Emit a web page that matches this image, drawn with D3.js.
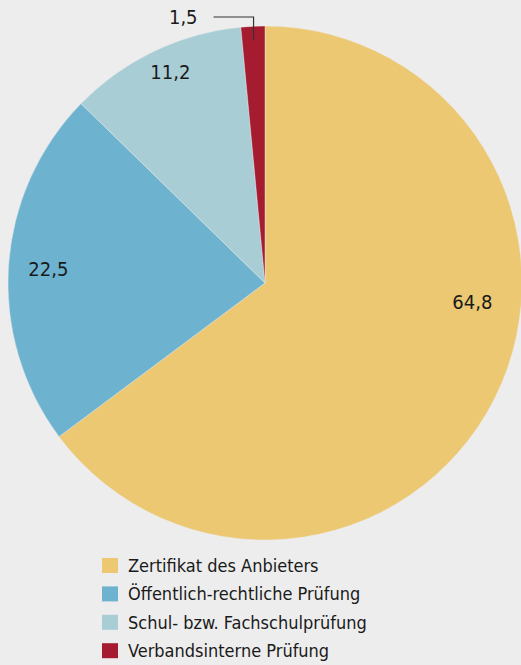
<!DOCTYPE html>
<html>
<head>
<meta charset="utf-8">
<script src="https://cdn.jsdelivr.net/npm/d3@7"></script>
<style>
  html, body { margin: 0; padding: 0; background: #ededed; }
  svg { display: block; }
  text { font-family: "Liberation Sans Narrow", "DejaVu Sans Condensed", "Roboto Condensed", sans-serif; fill: #1a1a1a; }
</style>
</head>
<body>
<div id="chart"></div>
<script>
// Chart Data
const categories = ["Zertifikat des Anbieters", "Öffentlich-rechtliche Prüfung", "Schul- bzw. Fachschulprüfung", "Verbandsinterne Prüfung"];
const values = [64.8, 22.5, 11.2, 1.5];
const valueLabels = ["64,8", "22,5", "11,2", "1,5"];
const colors = ["#ecc873", "#6db3d0", "#a9cdd5", "#a51c30"];

// Dimensions For SVG Element
let w = 521, h = 665;
let cx = 265, cy = 283, r = 257;

let svg = d3.select("#chart").append("svg").attr("width", w).attr("height", h);
let g = svg.append("g").attr("transform", "translate(" + cx + "," + cy + ")");

// Pie Layout, Clockwise From 12 O'Clock, Keeping Data Order
let pie = d3.pie().sort(null).value((d) => { return d; });
let arcs = pie(values);
let arc = d3.arc().innerRadius(0).outerRadius(r);

g.selectAll("path.slice").data(arcs).enter().append("path")
  .attr("class", "slice")
  .attr("d", arc)
  .attr("fill", (d, i) => { return colors[i]; })
  .attr("stroke", "#ededed").attr("stroke-width", 0.4);

// Value Labels (radius fraction, angle shift in degrees)
let labelPlace = [[0.81, -21.5], [0.845, 0], [0.9, 1.4], [null, 0]];
arcs.forEach((d, i) => {
  let mid = (d.startAngle + d.endAngle) / 2 + labelPlace[i][1] * Math.PI / 180;
  if (labelPlace[i][0] !== null) {
    let rr = labelPlace[i][0] * r;
    g.append("text").attr("x", rr * Math.sin(mid)).attr("y", -rr * Math.cos(mid))
      .attr("text-anchor", "middle").attr("dy", "0.36em")
      .style("font-size", "20px").text(valueLabels[i]);
  } else {
    // Small Slice: Leader Line Going Up And Left
    let r0 = 243, yTop = -266;
    let x0 = r0 * Math.sin(mid), y0 = -r0 * Math.cos(mid);
    g.append("path").attr("d", "M" + x0 + "," + y0 + "V" + yTop + "h-40")
      .attr("fill", "none").attr("stroke", "#333").attr("stroke-width", 1.2);
    g.append("text").attr("x", x0 - 56).attr("y", yTop).attr("dy", "0.36em")
      .attr("text-anchor", "end").style("font-size", "20px").text(valueLabels[i]);
  }
});

// Legend
let legend = svg.append("g").attr("transform", "translate(102, 558)");
let item = legend.selectAll("g").data(categories).enter().append("g")
  .attr("transform", (d, i) => { return "translate(0," + (i * 28.4) + ")"; });
item.append("rect").attr("width", 16).attr("height", 15).attr("fill", (d, i) => { return colors[i]; });
item.append("text").attr("x", 26).attr("y", 7.5).attr("dy", "0.36em")
  .style("font-size", "18px").text((d) => { return d; });
</script>
</body>
</html>
